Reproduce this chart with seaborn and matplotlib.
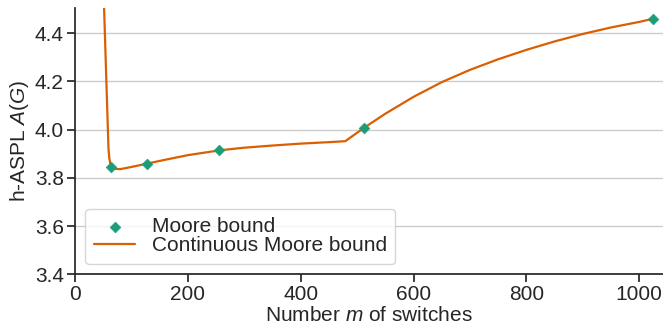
import matplotlib
matplotlib.use("Agg")
import matplotlib.pyplot as plt
import seaborn as sns
import pandas as pd

# Moore bound at powers of two
switches = [64, 128, 256, 512, 1024]
moore_bound = [3.845, 3.859, 3.914, 4.007, 4.46]

# continuous Moore bound
cont_switches = [50, 52, 54, 56, 58, 59.5, 61, 63, 66, 72, 80, 100, 128, 160,
                 200, 256, 300, 350, 400, 450, 479, 512, 550, 600, 650, 700,
                 750, 800, 850, 900, 950, 1000, 1024]
cont_moore = [4.63, 4.48, 4.33, 4.18, 4.03, 3.92, 3.88, 3.855, 3.842, 3.837,
              3.836, 3.845, 3.859, 3.875, 3.894, 3.914, 3.925, 3.934, 3.942,
              3.948, 3.952, 4.007, 4.066, 4.136, 4.197, 4.248, 4.292, 4.331,
              4.366, 4.397, 4.424, 4.447, 4.46]

disc = pd.DataFrame({"m": switches, "aspl": moore_bound})
cont = pd.DataFrame({"m": cont_switches, "aspl": cont_moore})

sns.set_theme(style="ticks", palette="Dark2")
plt.rcParams["font.family"] = ["Liberation Sans", "DejaVu Sans"]
plt.rcParams["mathtext.fontset"] = "custom"
plt.rcParams["mathtext.it"] = "Liberation Sans:italic"
plt.rcParams["mathtext.rm"] = "Liberation Sans"

colors = sns.color_palette("Dark2")
fs = 15

fig, ax = plt.subplots(figsize=(6.63, 3.3), dpi=100)
sns.lineplot(data=cont, x="m", y="aspl", color=colors[1], linewidth=1.6,
             label="Continuous Moore bound", ax=ax)
sns.scatterplot(data=disc, x="m", y="aspl", color=colors[0], marker="D",
                s=30, edgecolor=colors[0], label="Moore bound", ax=ax, zorder=3)

ax.set_xlim(0, 1042)
ax.set_ylim(3.4, 4.505)
ax.set_yticks([3.4, 3.6, 3.8, 4.0, 4.2, 4.4])
ax.set_xticks([0, 200, 400, 600, 800, 1000])
ax.yaxis.grid(True, color="#cccccc", linewidth=1)
ax.tick_params(labelsize=fs, pad=2)
ax.set_xlabel("Number $m$ of switches", fontsize=fs, labelpad=1)
ax.set_ylabel("h-ASPL $A(G)$", fontsize=fs, labelpad=3)
sns.despine(ax=ax)

handles, labels = ax.get_legend_handles_labels()
ax.legend(handles[::-1], labels[::-1], loc="lower left", fontsize=fs,
          labelspacing=0.0)

fig.subplots_adjust(left=0.113, right=1.0, top=0.976, bottom=0.169)
fig.savefig("out.png", dpi=100)
